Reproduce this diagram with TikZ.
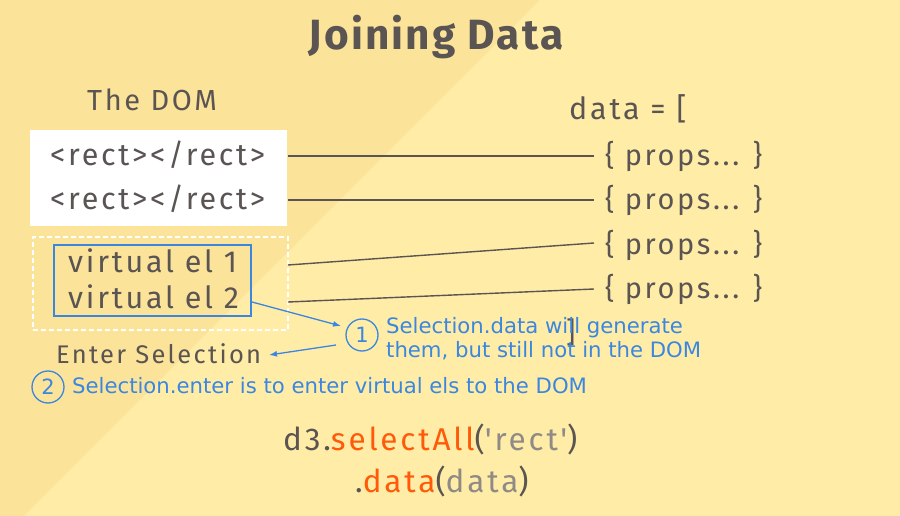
\documentclass[tikz,border=0pt]{standalone}
\usepackage{fontspec}
\usetikzlibrary{arrows.meta}
\newfontfamily\mainf[LetterSpace=9]{Fira Sans}
\newfontfamily\titlef[LetterSpace=5]{Fira Sans}
\newfontfamily\annf{DejaVu Sans}
\definecolor{bgA}{HTML}{FCE39A}
\definecolor{bgB}{HTML}{FFEDA7}
\definecolor{txt}{HTML}{5A5452}
\definecolor{ann}{HTML}{3A86E0}
\definecolor{org}{HTML}{FF5A0A}
\definecolor{lgr}{HTML}{8F8A86}
\tikzset{
  big/.style={font=\mainf\fontsize{30.5}{34}\selectfont, text=txt, inner sep=0pt},
  propstext/.style={big, font=\mainf\fontsize{29}{34}\selectfont},
  codetext/.style={big, font=\mainf\fontsize{31.5}{36}\selectfont},
  note/.style={font=\annf\fontsize{21.2}{24}\selectfont, text=ann, inner sep=0pt},
  link/.style={draw=txt, line width=1.4pt},
  bluearrow/.style={draw=ann, line width=1.3pt, -{Latex[length=8pt,width=6pt]}},
  numcirc/.style={circle, draw=ann, line width=1.3pt, minimum size=32pt, inner sep=0pt, font=\annf\fontsize{21}{22}\selectfont, text=ann}
}
\begin{document}
\begin{tikzpicture}[x=1pt,y=-1pt]
\useasboundingbox (0,0) rectangle (900,516);
\fill[bgA] (0,0) rectangle (900,516);
\fill[bgB] (540,0) -- (900,0) -- (900,516) -- (24,516) -- cycle;
% title
\node[big, font=\titlef\bfseries\fontsize{42.3}{46}\selectfont, anchor=base] (title) at (436,50) {Joining Data};
\node[propstext, anchor=base west] (domlbl) at (87,111) {The DOM};
\node[big, anchor=base west] (datalbl) at (569,120) {data = [};
% DOM box
\node[fill=white, inner sep=0pt, minimum width=257, minimum height=96, anchor=north west] (dombox) at (30,130) {};
\node[big, anchor=base west] (r1) at (50,165) {<rect></rect>};
\node[big, anchor=base west] (r2) at (50,210) {<rect></rect>};
% enter selection box
\node[draw=white, dashed, dash pattern=on 5pt off 3pt, line width=1.6pt, inner sep=0pt, minimum width=255, minimum height=93, anchor=north west] (enterbox) at (32,236) {};
\node[draw=ann, line width=1.5pt, inner sep=0pt, minimum width=197, minimum height=71, anchor=north west] (vbox) at (53,244) {};
\node[big, anchor=base west] (v1) at (68,272) {virtual el 1};
\node[big, anchor=base west] (v2) at (68,308) {virtual el 2};
% props
\node[propstext, anchor=base west] (p1) at (605,165) {\{ props... \}};
\node[propstext, anchor=base west] (p2) at (605,210) {\{ props... \}};
\node[propstext, anchor=base west] (p3) at (605,254) {\{ props... \}};
\node[propstext, anchor=base west] (p4) at (605,298) {\{ props... \}};
\node[propstext, anchor=base west] (close) at (566,342) {]};
% connectors
\coordinate (a1) at (288,156); \coordinate (b1) at (594,156);
\coordinate (a2) at (288,200); \coordinate (b2) at (594,200);
\coordinate (a3) at (288,265); \coordinate (b3) at (594,243);
\coordinate (a4) at (288,302); \coordinate (b4) at (594,289);
\draw[link] (a1) -- (b1);
\draw[link] (a2) -- (b2);
\draw[link] (a3) -- (b3);
\draw[link] (a4) -- (b4);
% annotations
\node[numcirc] (c1) at (362,335) {1};
\node[note, anchor=base west] (n1a) at (386,333) {Selection.data will generate};
\node[note, anchor=base west] (n1b) at (386,357) {them, but still not in the DOM};
\node[big, anchor=base west, font=\mainf\fontsize{25.5}{30}\selectfont] (entlbl) at (56,363) {Enter Selection};
\coordinate (ar1s) at (252,302); \coordinate (ar1e) at (341,326);
\coordinate (ar2s) at (336,345); \coordinate (ar2e) at (269,355);
\draw[bluearrow] (ar1s) -- (ar1e);
\draw[bluearrow] (ar2s) -- (ar2e);
\node[numcirc] (c2) at (48,387) {2};
\node[note, anchor=base west] (n2) at (72,393) {Selection.enter is to enter virtual els to the DOM};
% code
\node[codetext, anchor=base west] (code1) at (283,450) {d3.\textcolor{org}{selectAll}(\textcolor{lgr}{'rect'})};
\node[codetext, anchor=base west] (code2) at (355,492) {.\textcolor{org}{data}(\textcolor{lgr}{data})};
\end{tikzpicture}
\end{document}
